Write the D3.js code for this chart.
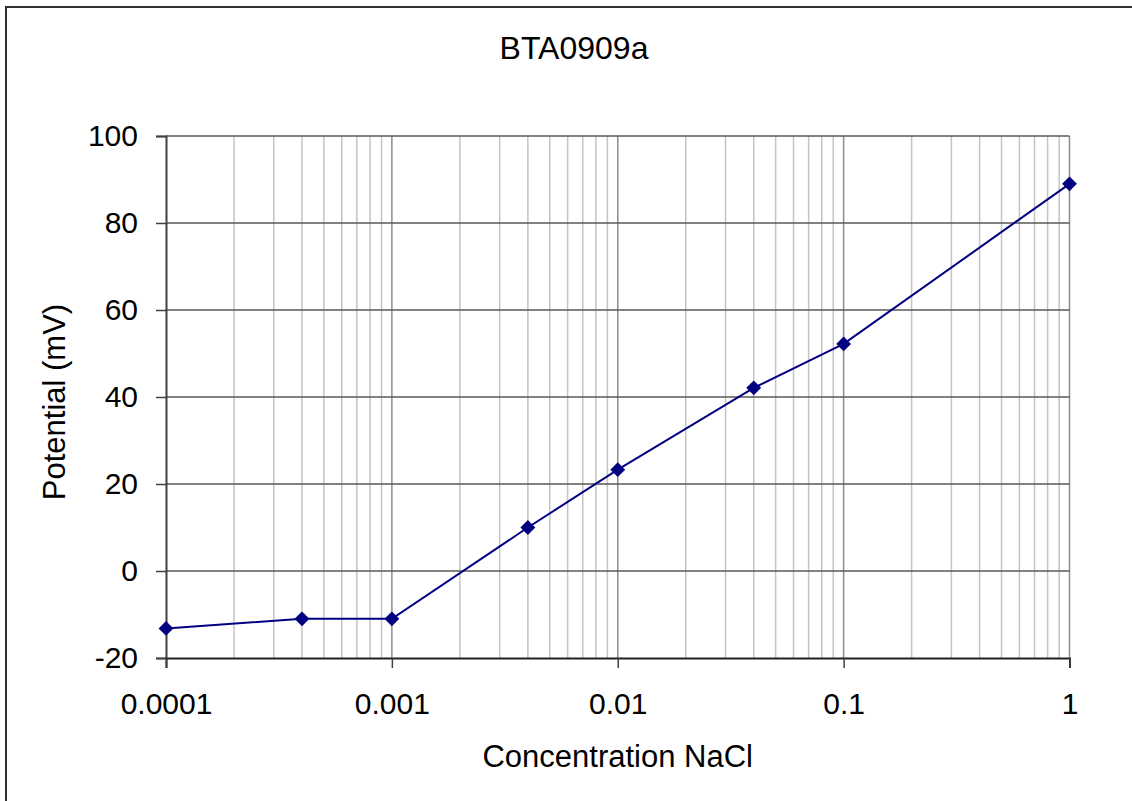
<!DOCTYPE html>
<html>
<head>
<meta charset="utf-8">
<script src="https://cdn.jsdelivr.net/npm/d3@7.9.0/dist/d3.min.js"></script>
<style>
  body { margin: 0; background: #fff; }
  svg { display: block; font-family: "Liberation Sans", Arial, sans-serif; }
</style>
</head>
<body>
<svg width="1132" height="801"></svg>
<script>
// data
const concentrations = [0.0001, 0.0004, 0.001, 0.004, 0.01, 0.04, 0.1, 1];
const potentials = [-13.2, -11, -11, 10, 23.3, 42.1, 52.2, 89];
const yTicks = [-20, 0, 20, 40, 60, 80, 100];
const xTicks = [0.0001, 0.001, 0.01, 0.1, 1];
const xTickLabels = ['0.0001', '0.001', '0.01', '0.1', '1'];

const svg = d3.select('svg');
const plotLeft = 166, plotRight = 1069.5, plotTop = 136, plotBottom = 658;

// outer chart frame (runs off the right and bottom edges)
svg.append('rect')
  .attr('x', 6).attr('y', 7)
  .attr('width', 1140).attr('height', 810)
  .attr('fill', 'none')
  .attr('stroke', '#303030')
  .attr('stroke-width', 2);

const x = d3.scaleLog().domain([0.0001, 1]).range([plotLeft, plotRight]);
const y = d3.scaleLinear().domain([-20, 100]).range([plotBottom, plotTop]);

// minor vertical gridlines (2..9 in each decade)
const minor = [];
for (let e = -4; e < 0; e++) {
  for (let m = 2; m <= 9; m++) minor.push(m * Math.pow(10, e));
}
svg.append('g').selectAll('line').data(minor).join('line')
  .attr('x1', d => x(d)).attr('x2', d => x(d))
  .attr('y1', plotTop).attr('y2', plotBottom)
  .attr('stroke', '#c4c4c4').attr('stroke-width', 1.5);

// decade gridlines
svg.append('g').selectAll('line').data(xTicks.slice(1)).join('line')
  .attr('x1', d => x(d)).attr('x2', d => x(d))
  .attr('y1', plotTop).attr('y2', plotBottom)
  .attr('stroke', '#8c8c8c').attr('stroke-width', 1.5);

// horizontal gridlines
svg.append('g').selectAll('line').data(yTicks.slice(1)).join('line')
  .attr('x1', plotLeft).attr('x2', plotRight)
  .attr('y1', d => y(d)).attr('y2', d => y(d))
  .attr('stroke', '#585858').attr('stroke-width', 1.5);

// y axis
const yAxis = svg.append('g')
  .attr('transform', `translate(${plotLeft},0)`)
  .call(d3.axisLeft(y).tickValues(yTicks).tickFormat(d => String(d))
    .tickSize(10).tickPadding(18));
yAxis.select('.domain').attr('stroke', '#404040').attr('stroke-width', 2);
yAxis.selectAll('.tick line').attr('stroke', '#404040').attr('stroke-width', 1.5);
yAxis.selectAll('.tick text')
  .attr('font-size', 30).attr('fill', '#000')
  .attr('font-family', '"Liberation Sans", Arial, sans-serif');

// x axis
const xAxis = svg.append('g')
  .attr('transform', `translate(0,${plotBottom})`)
  .call(d3.axisBottom(x).tickValues(xTicks)
    .tickFormat((d, i) => xTickLabels[i]).tickSize(10).tickPadding(25));
xAxis.select('.domain').attr('stroke', '#202020').attr('stroke-width', 2);
xAxis.selectAll('.tick line').attr('stroke', '#404040').attr('stroke-width', 1.5);
xAxis.selectAll('.tick text')
  .attr('font-size', 30).attr('fill', '#000')
  .attr('font-family', '"Liberation Sans", Arial, sans-serif');

// series line
const pts = concentrations.map((c, i) => [c, potentials[i]]);
svg.append('path')
  .datum(pts)
  .attr('fill', 'none')
  .attr('stroke', '#000080')
  .attr('stroke-width', 2)
  .attr('d', d3.line().x(d => x(d[0])).y(d => y(d[1])));

// diamond markers
svg.append('g').selectAll('path').data(pts).join('path')
  .attr('d', d3.symbol(d3.symbolSquare, 110))
  .attr('transform', d => `translate(${x(d[0])},${y(d[1])}) rotate(45)`)
  .attr('fill', '#000080');

// titles
svg.append('text')
  .attr('x', 574).attr('y', 59)
  .attr('text-anchor', 'middle')
  .attr('font-size', 32)
  .text('BTA0909a');

svg.append('text')
  .attr('x', (plotLeft + plotRight) / 2).attr('y', 767)
  .attr('text-anchor', 'middle')
  .attr('font-size', 31)
  .text('Concentration NaCl');

svg.append('text')
  .attr('transform', `translate(65,${(plotTop + plotBottom) / 2 + 5}) rotate(-90)`)
  .attr('text-anchor', 'middle')
  .attr('font-size', 31)
  .text('Potential (mV)');
</script>
</body>
</html>
